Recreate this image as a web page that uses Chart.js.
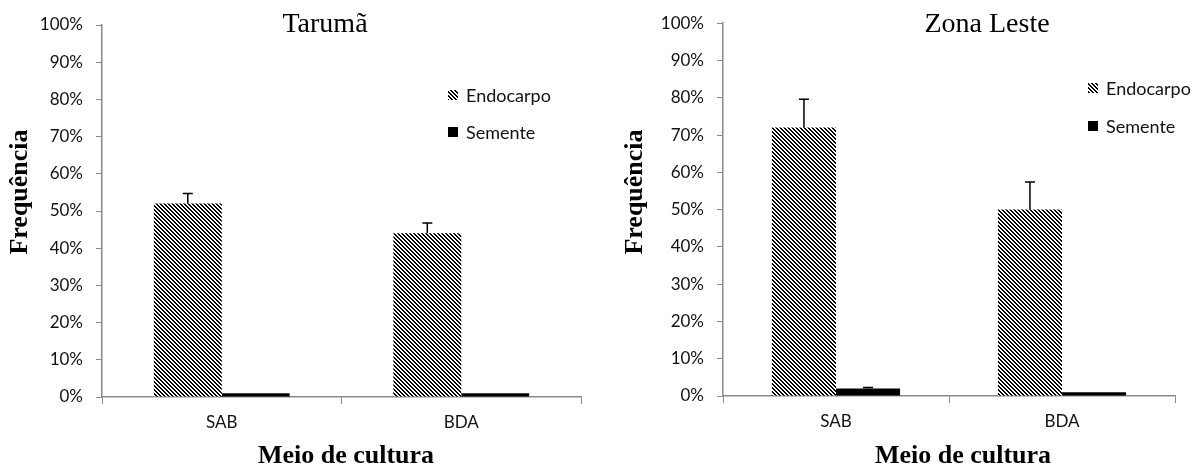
<!DOCTYPE html>
<html>
<head>
<meta charset="utf-8">
<script src="https://cdn.jsdelivr.net/npm/chart.js@4.4.1/dist/chart.umd.min.js"></script>
<style>
  body { margin: 0; background: #fff; }
  .panel { position: absolute; top: 0; height: 466px; }
</style>
</head>
<body>
<div class="panel" style="left:0;width:600px"><canvas id="taruma" width="600" height="466"></canvas></div>
<div class="panel" style="left:600px;width:595px"><canvas id="leste" width="595" height="466"></canvas></div>
<script>
// data (percent)
const categories = ['SAB', 'BDA'];
const seriesNames = ['Endocarpo', 'Semente'];
const yTickValues = [0, 10, 20, 30, 40, 50, 60, 70, 80, 90, 100];

const tarumaEndocarpo = [52, 44];
const tarumaEndocarpoErr = [2.7, 2.8];
const tarumaSemente = [1, 1];
const tarumaSementeErr = [0, 0];

const lesteEndocarpo = [72, 50];
const lesteEndocarpoErr = [7.6, 7.4];
const lesteSemente = [2, 1];
const lesteSementeErr = [0.3, 0];

// diagonal hatch like the excel fill
function hatch() {
  const c = document.createElement('canvas');
  c.width = 4; c.height = 4;
  const g = c.getContext('2d');
  const img = g.createImageData(4, 4);
  for (let y = 0; y < 4; y++) {
    for (let x = 0; x < 4; x++) {
      const i = (y * 4 + x) * 4;
      const on = (((x - y) % 4) + 4) % 4 < 2;
      const v = on ? 0 : 255;
      img.data[i] = v; img.data[i + 1] = v; img.data[i + 2] = v; img.data[i + 3] = 255;
    }
  }
  g.putImageData(img, 0, 0);
  return g.createPattern(c, 'repeat');
}

const axisGray = '#8a8a8a';
const textColor = '#111';
const tickFont = { family: 'Lato', size: 17 };

// upward error bars with a cap
const errorBars = {
  id: 'errorBars',
  afterDatasetsDraw(chart) {
    const ctx = chart.ctx;
    const y = chart.scales.y;
    ctx.save();
    ctx.strokeStyle = '#000';
    ctx.lineWidth = 1.5;
    chart.data.datasets.forEach((ds, di) => {
      const meta = chart.getDatasetMeta(di);
      meta.data.forEach((bar, i) => {
        const e = ds.errors[i];
        if (!e) return;
        const top = y.getPixelForValue(ds.data[i] + e);
        ctx.beginPath();
        ctx.moveTo(bar.x, bar.y);
        ctx.lineTo(bar.x, top);
        ctx.moveTo(bar.x - 5, top);
        ctx.lineTo(bar.x + 5, top);
        ctx.stroke();
      });
    });
    ctx.restore();
  }
};

// title, axis titles and the legend inside the plot
const panelText = {
  id: 'panelText',
  afterDraw(chart, args, o) {
    const ctx = chart.ctx;
    ctx.save();
    ctx.fillStyle = '#000';
    ctx.textBaseline = 'alphabetic';
    ctx.textAlign = 'center';
    ctx.font = '28px "Liberation Serif"';
    ctx.fillText(o.title, o.titleX, 32);
    ctx.font = 'bold 26px "Liberation Serif"';
    ctx.fillText('Meio de cultura', o.xTitleX, 463);
    ctx.save();
    ctx.translate(o.yTitleX, 192);
    ctx.rotate(-Math.PI / 2);
    ctx.fillText('Frequência', 0, 0);
    ctx.restore();

    ctx.textAlign = 'left';
    ctx.textBaseline = 'middle';
    ctx.font = '18px Lato';
    chart.data.datasets.forEach((ds, i) => {
      const cy = o.legendY[i];
      ctx.fillStyle = ds.backgroundColor;
      ctx.fillRect(o.legendX, cy - 5, 10, 10);
      ctx.fillStyle = textColor;
      ctx.fillText(ds.label, o.legendX + 18, cy + 1);
    });
    ctx.restore();
  }
};

function makeChart(id, endo, endoErr, sem, semErr, box, text) {
  const canvas = document.getElementById(id);
  const pattern = hatch();
  return new Chart(canvas, {
    type: 'bar',
    data: {
      labels: categories,
      datasets: [
        { label: seriesNames[0], data: endo, errors: endoErr, backgroundColor: pattern },
        { label: seriesNames[1], data: sem, errors: semErr, backgroundColor: '#000' }
      ]
    },
    options: {
      responsive: false,
      animation: false,
      layout: { padding: { left: 0, top: box.top, right: canvas.width - box.right, bottom: 0 } },
      datasets: { bar: { categoryPercentage: 0.567, barPercentage: 1, borderWidth: 0 } },
      scales: {
        x: {
          grid: { display: true, drawOnChartArea: false, offset: true, color: axisGray, tickLength: 7 },
          border: { color: axisGray, width: 1.5 },
          ticks: { font: tickFont, color: textColor, padding: 8, maxRotation: 0 },
          afterFit: s => { s.height = canvas.height - box.bottom; }
        },
        y: {
          min: 0, max: 100,
          grid: { display: true, drawOnChartArea: false, color: axisGray, tickLength: 6 },
          border: { color: axisGray, width: 1.5 },
          afterBuildTicks: s => { s.ticks = yTickValues.map(v => ({ value: v })); },
          ticks: { font: tickFont, color: textColor, padding: 13, callback: v => v + '%' },
          afterFit: s => { s.width = box.left; }
        }
      },
      plugins: {
        legend: { display: false },
        title: { display: false },
        tooltip: { enabled: false },
        panelText: text
      }
    },
    plugins: [errorBars, panelText]
  });
}

makeChart('taruma', tarumaEndocarpo, tarumaEndocarpoErr, tarumaSemente, tarumaSementeErr,
  { left: 102, right: 581, top: 25, bottom: 397 },
  { title: 'Tarumã', titleX: 325, xTitleX: 346, yTitleX: 27, legendX: 448, legendY: [95, 132] });

makeChart('leste', lesteEndocarpo, lesteEndocarpoErr, lesteSemente, lesteSementeErr,
  { left: 123, right: 575, top: 23, bottom: 396 },
  { title: 'Zona Leste', titleX: 387, xTitleX: 363, yTitleX: 42, legendX: 488, legendY: [88, 126] });
</script>
</body>
</html>
